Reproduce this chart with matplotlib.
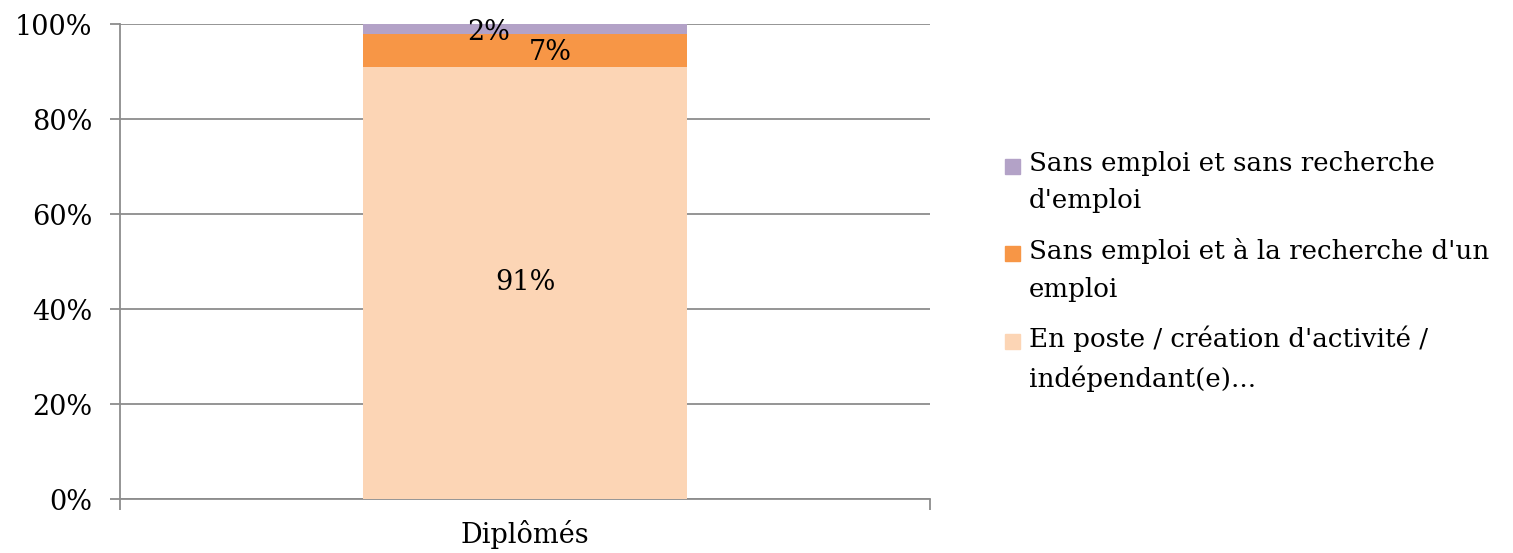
import matplotlib.pyplot as plt
from matplotlib.patches import Rectangle

# data
categories = ['Diplômés']
series_names = ["En poste / création d'activité /\nindépendant(e)...",
                "Sans emploi et à la recherche d'un\nemploi",
                "Sans emploi et sans recherche\nd'emploi"]
series_values = [[91], [7], [2]]
series_colors = ['#FCD5B5', '#F79646', '#B3A2C7']
label_offsets = [(0, 0), (18, -2), (-26, -3)]  # points, for the data labels
yticks = [0, 20, 40, 60, 80, 100]

plt.rcParams['font.family'] = ['DejaVu Serif']
grid_col = '#8C8C8C'
fs = 19.5
W, H = 1513, 553

fig = plt.figure(figsize=(W / 100, H / 100), dpi=100)
ax = fig.add_axes([0.0793, 0.0976, 0.5354, 0.859])

bottom = [0] * len(categories)
for vals, name, col, off in zip(series_values, series_names, series_colors, label_offsets):
    bars = ax.bar(range(len(categories)), vals, width=0.4, bottom=bottom,
                  color=col, label=name, zorder=3)
    for b, v in zip(bars, vals):
        ax.annotate('%d%%' % v, (b.get_x() + b.get_width() / 2, b.get_y() + b.get_height() / 2),
                    xytext=off, textcoords='offset points', ha='center', va='center',
                    fontsize=fs, zorder=4)
    bottom = [a + b for a, b in zip(bottom, vals)]

ax.set_xlim(-0.5, len(categories) - 0.5)
ax.set_ylim(0, 100)
ax.set_yticks(yticks)
ax.set_yticklabels(['%d%%' % t for t in yticks], fontsize=fs)
ax.yaxis.grid(True, color=grid_col, linewidth=1.3, zorder=0)

# category label and boundary ticks
ax.set_xticks([-0.5, 0.5])
ax.set_xticklabels(['', ''])
ax.tick_params(axis='x', length=8, color=grid_col, width=1.3)
ax.tick_params(axis='y', length=7, color=grid_col, width=1.3, pad=13)
for i, c in enumerate(categories):
    ax.text(i, -0.045, c, transform=ax.get_xaxis_transform(), ha='center', va='top', fontsize=fs)

for s in ['top', 'right']:
    ax.spines[s].set_visible(False)
for s in ['left', 'bottom']:
    ax.spines[s].set_color(grid_col)
    ax.spines[s].set_linewidth(1.3)

# legend drawn by hand so the marker sits on the first line, like Excel
for k, (name, col) in enumerate(zip(series_names[::-1], series_colors[::-1])):
    yc = 166 + 87.5 * k  # px from top, centre of the first line
    fig.patches.append(Rectangle((1005 / W, 1 - (yc + 7.5) / H), 15 / W, 15 / H,
                                 color=col, transform=fig.transFigure, figure=fig))
    fig.text(1029 / W, 1 - (yc - 15) / H, name, ha='left', va='top',
             fontsize=18.8, linespacing=1.62)

fig.savefig('out.png', dpi=100)
